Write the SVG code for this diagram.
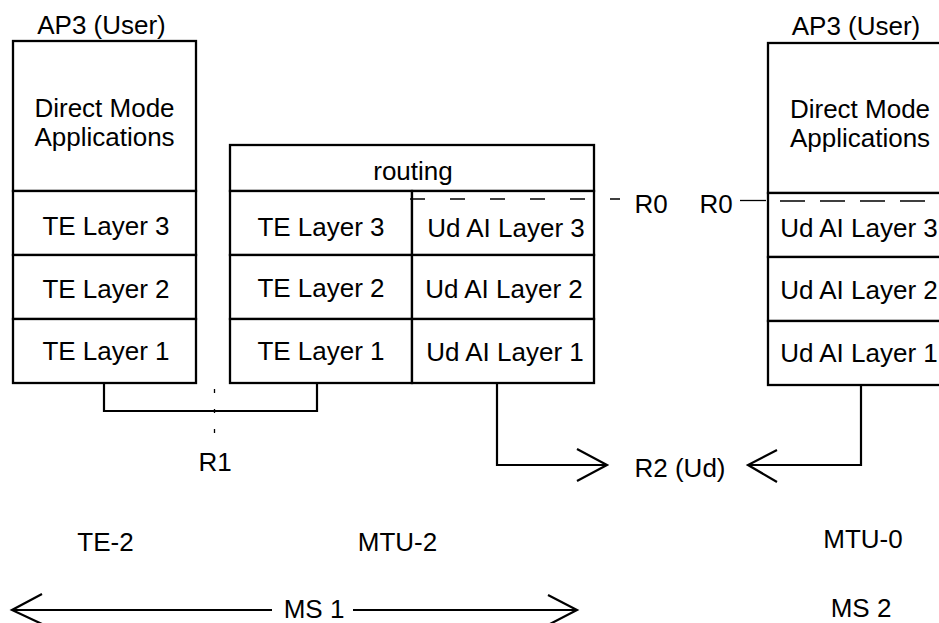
<svg xmlns="http://www.w3.org/2000/svg" width="939" height="623" viewBox="0 0 939 623">
<style>
text{font-family:"Liberation Sans",Arial,sans-serif;font-size:26px;fill:#000;text-anchor:middle}
.b{fill:#fff;stroke:#000;stroke-width:2.3}
.l{fill:none;stroke:#000;stroke-width:2.2}
.t{fill:none;stroke:#000;stroke-width:1.3}
.d{fill:none;stroke:#000;stroke-width:1.3}
</style>
<rect width="939" height="623" fill="#fff"/>
<g id="te2">
<text x="101.5" y="34">AP3 (User)</text>
<rect class="b" x="13" y="41" width="183" height="150"/>
<text x="104.5" y="117">Direct Mode</text>
<text x="104.5" y="146">Applications</text>
<rect class="b" x="13" y="191" width="183" height="64"/>
<text x="106" y="235">TE Layer 3</text>
<rect class="b" x="13" y="255" width="183" height="64"/>
<text x="106" y="298">TE Layer 2</text>
<rect class="b" x="13" y="319" width="183" height="64"/>
<text x="106" y="360">TE Layer 1</text>
</g>
<g id="mtu2">
<rect class="b" x="230" y="145" width="364" height="46"/>
<text x="413" y="180">routing</text>
<rect class="b" x="230" y="191" width="182" height="64"/>
<text x="321" y="236">TE Layer 3</text>
<rect class="b" x="230" y="255" width="182" height="64"/>
<text x="321" y="297">TE Layer 2</text>
<rect class="b" x="230" y="319" width="182" height="64"/>
<text x="321" y="360">TE Layer 1</text>
<rect class="b" x="412" y="191" width="182" height="64"/>
<text x="506" y="237">Ud AI Layer 3</text>
<rect class="b" x="412" y="255" width="182" height="64"/>
<text x="504" y="298">Ud AI Layer 2</text>
<rect class="b" x="412" y="319" width="182" height="64"/>
<text x="505" y="361">Ud AI Layer 1</text>
</g>
<g id="mtu0">
<text x="856" y="35">AP3 (User)</text>
<rect class="b" x="768" y="43" width="183" height="150"/>
<text x="860" y="118">Direct Mode</text>
<text x="860" y="147">Applications</text>
<rect class="b" x="768" y="193" width="183" height="64"/>
<text x="859" y="237">Ud AI Layer 3</text>
<rect class="b" x="768" y="257" width="183" height="64"/>
<text x="859" y="299">Ud AI Layer 2</text>
<rect class="b" x="768" y="321" width="183" height="64"/>
<text x="859" y="362">Ud AI Layer 1</text>
</g>
<g id="connectors">
<line class="d" x1="410" y1="199" x2="620" y2="199" stroke-dasharray="15 25"/>
<line class="d" x1="780" y1="201" x2="939" y2="201" stroke-dasharray="25 15"/>
<line class="t" x1="740" y1="200.5" x2="766" y2="200.5"/>
<polyline class="l" points="104,383 104,411 317,411 317,383"/>
<line class="t" x1="214.5" y1="389" x2="214.5" y2="434" stroke-dasharray="4 16"/>
<polyline class="l" points="497,383 497,465 606,465"/>
<polyline class="l" points="577,449 607,465 577,481"/>
<polyline class="l" points="861,385 861,465 749,465"/>
<polyline class="l" points="777,450 748,465 777,482"/>
<line class="l" x1="13" y1="610" x2="272" y2="610"/>
<polyline class="l" points="42,594 12,610 42,624"/>
<line class="l" x1="353" y1="610" x2="576" y2="610"/>
<polyline class="l" points="548,595 577,610 548,625"/>
</g>
<g id="labels">
<text x="651" y="213">R0</text>
<text x="716" y="213">R0</text>
<text x="215" y="471">R1</text>
<text x="680" y="477">R2 (Ud)</text>
<text x="105.5" y="551">TE-2</text>
<text x="397.5" y="551">MTU-2</text>
<text x="863" y="548">MTU-0</text>
<text x="314" y="618">MS 1</text>
<text x="861" y="617">MS 2</text>
</g>
</svg>
